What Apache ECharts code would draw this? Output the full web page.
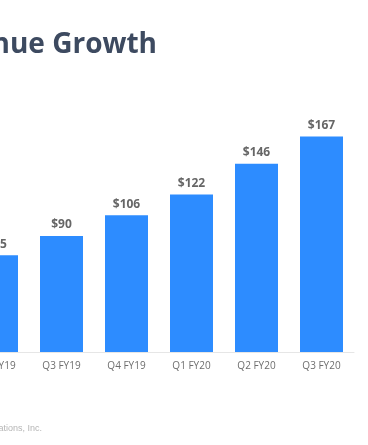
<!DOCTYPE html>
<html><head><meta charset="utf-8">
<script src="https://cdn.jsdelivr.net/npm/echarts@6/dist/echarts.min.js"></script>
<style>html,body{margin:0;padding:0;background:#fff;}#c{width:368px;height:445px;}</style>
</head><body><div id="c"></div>
<script>
const categories = ["Q2 FY19", "Q3 FY19", "Q4 FY19", "Q1 FY20", "Q2 FY20", "Q3 FY20"];
const revenue = [75, 90, 106, 122, 146, 167];
const titleText = "Revenue Growth";
const footerText = "© 2019 Zoom Video Communications, Inc.";

const chart = echarts.init(document.getElementById('c'), null, {renderer: 'canvas'});
chart.setOption({
  backgroundColor: '#ffffff',
  animation: false,
  graphic: [
    {type: 'text', right: 211, top: 31, style: {text: titleText, fill: '#3d4a60', font: 'bold 28px "Open Sans"', textAlign: 'right'}},
    {type: 'text', right: 326, top: 424, style: {text: footerText, fill: '#b5b5b5', font: '9px "Liberation Sans"', textAlign: 'right'}}
  ],
  grid: {left: -36, width: 390, top: 94, height: 258, containLabel: false, outerBoundsMode: 'none'},
  xAxis: {
    type: 'category', data: categories,
    axisLine: {show: true, lineStyle: {color: '#e6e6e6', width: 1}},
    axisTick: {show: false},
    axisLabel: {color: '#6e6e6e', fontSize: 10, fontFamily: 'Open Sans', fontWeight: 'normal', margin: 9, interval: 0}
  },
  yAxis: {type: 'value', min: 0, max: 200, show: false, splitLine: {show: false}},
  series: [{
    type: 'bar', data: revenue, barWidth: 43,
    itemStyle: {color: '#2d8cff'},
    label: {show: true, position: 'top', distance: 5, formatter: p => '$' + p.value,
      color: '#666666', fontSize: 12, fontWeight: 'bold', fontFamily: 'Open Sans'}
  }]
});
</script></body></html>
